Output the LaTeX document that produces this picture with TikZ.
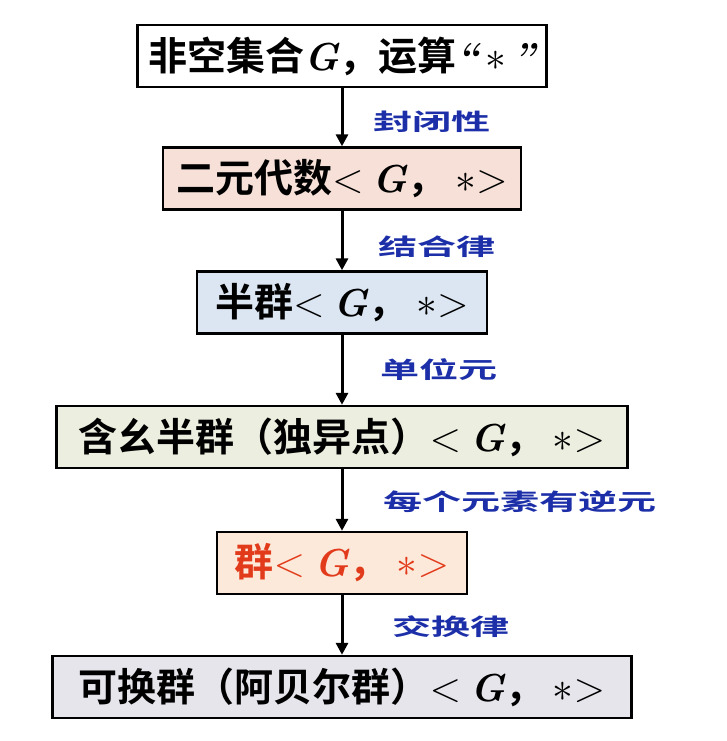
\documentclass[tikz,border=0pt]{standalone}
\usepackage{fontspec}
\usepackage{tikz}
\usetikzlibrary{arrows.meta}
\newfontfamily\cjkb{Noto Sans CJK SC Bold}
\definecolor{grpink}{HTML}{F6E0D7}
\definecolor{grblue}{HTML}{DCE6F2}
\definecolor{grolive}{HTML}{ECEEDF}
\definecolor{grpeach}{HTML}{FDE9D9}
\definecolor{grgray}{HTML}{E7E5EC}
\definecolor{grred}{HTML}{E23B1B}
\definecolor{grlabel}{HTML}{1C2FA8}
\newcommand{\gsym}{{\rmfamily\bfseries\itshape G}}
\newcommand{\gop}{$<$\ \gsym{\cjkb ，}\ ${*}{>}$}

\begin{document}
\begin{tikzpicture}[x=0.5pt, y=-0.5pt,
  stage/.style={draw=black, line width=1.2pt, minimum height=31pt, inner sep=0pt,
    font=\cjkb\fontsize{19.5}{22}\selectfont},
  link/.style={line width=1.5pt, -{Triangle[length=6pt, width=6pt]}},
  cond/.style={anchor=west, text=grlabel, inner sep=0pt,
    font=\cjkb\fontsize{11.5}{13}\selectfont}]
  \useasboundingbox (0,0) rectangle (727,741);
  \fill[white] (0,0) rectangle (727,741);

  % the chain of structures
  \node[stage, fill=white, minimum width=204.5pt] (set) at (342,56) {非空集合\gsym，运算{\rmfamily\bfseries\itshape``\,$*$\,''}};
  \node[stage, fill=grpink, minimum width=179pt] (alg) at (342,178.5) {二元代数\gop};
  \node[stage, fill=grblue, minimum width=145pt] (semi) at (342,302.5) {半群\gop};
  \node[stage, fill=grolive, minimum width=285.5pt] (mono) at (342,437) {含幺半群（独异点）\gop};
  \node[stage, fill=grpeach, minimum width=125pt, text=grred] (grp) at (342,563) {群\gop};
  \node[stage, fill=grgray, minimum width=289.5pt] (abel) at (342,687) {可换群（阿贝尔群）\gop};

  % arrows and the property that each one adds
  \draw[link] (set) -- (alg);
  \draw[link] (alg) -- (semi);
  \draw[link] (semi) -- (mono);
  \draw[link] (mono) -- (grp);
  \draw[link] (grp) -- (abel);

  \node[cond] (c1) at (373,122) {\scalebox{1.7}[1]{封闭性}};
  \node[cond] (c2) at (378,247) {\scalebox{1.7}[1]{结合律}};
  \node[cond] (c3) at (380,370) {\scalebox{1.7}[1]{单位元}};
  \node[cond] (c4) at (383,502) {\scalebox{1.7}[1]{每个元素有逆元}};
  \node[cond] (c5) at (392,627) {\scalebox{1.7}[1]{交换律}};
\end{tikzpicture}
\end{document}
